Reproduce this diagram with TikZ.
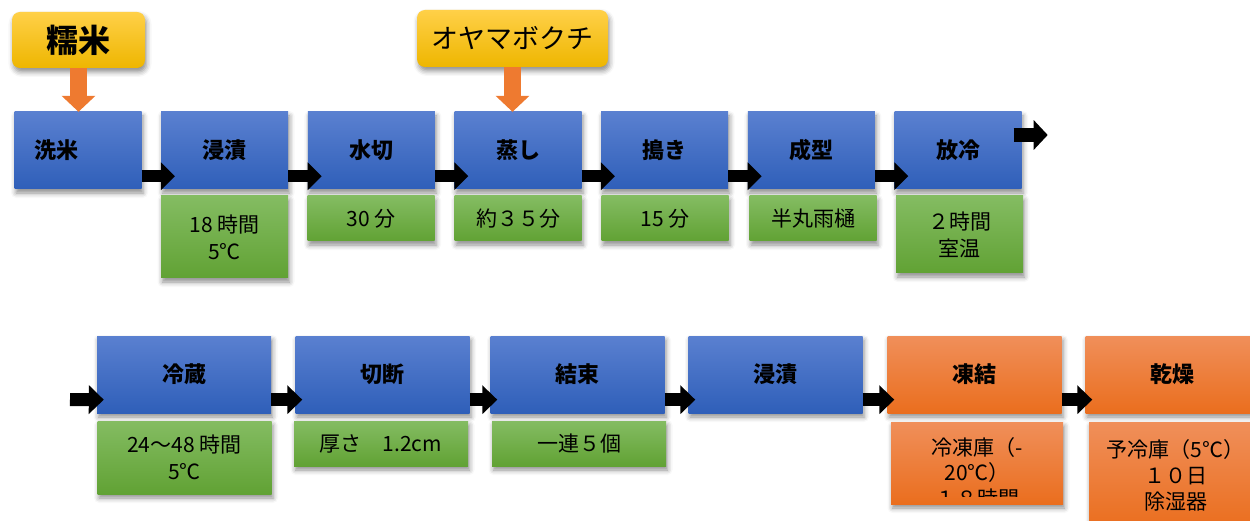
\documentclass[tikz,border=0pt]{standalone}
\usepackage{fontspec}
\setmainfont{Noto Sans CJK JP}
\usetikzlibrary{arrows.meta,shadows.blur,calc}
\definecolor{blueT}{RGB}{90,128,208}
\definecolor{blueB}{RGB}{47,95,185}
\definecolor{greenT}{RGB}{132,188,98}
\definecolor{greenB}{RGB}{97,162,52}
\definecolor{orT}{RGB}{240,143,90}
\definecolor{orB}{RGB}{234,110,30}
\definecolor{yelT}{RGB}{255,208,72}
\definecolor{yelB}{RGB}{238,182,0}
\definecolor{arrOr}{RGB}{238,122,48}
\tikzset{
 shad/.style={blur shadow={shadow xshift=1.5pt,shadow yshift=-4pt,shadow blur radius=5pt,shadow opacity=45}},
 bluebox/.style={rectangle, shad, top color=blueT, bottom color=blueB, minimum width=127pt, minimum height=77pt, inner sep=0pt, font=\bfseries\fontsize{22}{26}\selectfont},
 bluebox2/.style={bluebox, minimum width=174pt},
 orbox/.style={bluebox2, top color=orT, bottom color=orB},
 greenbox/.style={rectangle, shad, top color=greenT, bottom color=greenB, minimum width=127pt, inner sep=0pt, align=center, font=\fontsize{21}{27}\selectfont},
 greenbox2/.style={greenbox, minimum width=174pt},
 orsub/.style={greenbox2, top color=orT, bottom color=orB, font=\fontsize{21}{25}\selectfont},
 yelbox/.style={rectangle, rounded corners=8pt, shad, top color=yelT, bottom color=yelB, inner sep=0pt},
 blk/.style={line width=12pt, black, -{Triangle[length=14pt,width=27pt]}},
 orarr/.style={line width=17pt, arrOr, -{Triangle[length=16pt,width=33pt]}},
}
\begin{document}
\begin{tikzpicture}[x=1pt,y=1pt]
\useasboundingbox (0,0) rectangle (1250,-521);
\clip (0,0) rectangle (1250,-521);
% yellow inputs
\node[yelbox, minimum width=133pt, minimum height=56pt, font=\bfseries\fontsize{32}{36}\selectfont] (y1) at (78.5,-40) {糯米};
\node[yelbox, minimum width=191pt, minimum height=57pt, font=\fontsize{27}{31}\selectfont] (y2) at (512.5,-38.5) {オヤマボクチ};
% top row
\node[bluebox, align=left, text width=87pt, inner xsep=20pt] (b1) at (78,-150.5) {洗米};
\node[bluebox] (b2) at (224.67,-150.5) {浸漬};
\node[bluebox] (b3) at (371.33,-150.5) {水切};
\node[bluebox] (b4) at (518,-150.5) {蒸し};
\node[bluebox] (b5) at (664.67,-150.5) {搗き};
\node[bluebox] (b6) at (811.33,-150.5) {成型};
\node[bluebox] (b7) at (958,-150.5) {放冷};
% top subs
\node[greenbox, minimum height=82pt] (g2) at (224.5,-237) {18 時間\\5℃};
\node[greenbox, minimum height=45pt] (g3) at (371,-218.5) {30 分};
\node[greenbox, minimum height=45pt] (g4) at (518,-218.5) {約３５分};
\node[greenbox, minimum height=45pt] (g5) at (665,-218.5) {15 分};
\node[greenbox, minimum height=45pt] (g6) at (813,-218.5) {半丸雨樋};
\node[greenbox, minimum height=77pt] (g7) at (959.5,-234.5) {２時間\\室温};
% bottom row
\node[bluebox2] (c1) at (184,-374.5) {冷蔵};
\node[bluebox2] (c2) at (382.5,-374.5) {切断};
\node[bluebox2] (c3) at (577.5,-374.5) {結束};
\node[bluebox2] (c4) at (775.5,-374.5) {浸漬};
\node[orbox] (c5) at (974.5,-374.5) {凍結};
\node[orbox] (c6) at (1172.5,-374.5) {乾燥};
% bottom subs
\node[greenbox2, minimum height=73pt] (h1) at (184.5,-457.5) {24～48 時間\\5℃};
\node[greenbox2, minimum height=45pt] (h2) at (381,-443.5) {厚さ　1.2cm};
\node[greenbox2, minimum height=45pt] (h3) at (579,-443.5) {一連５個};
\node[orsub, minimum width=172pt, minimum height=82pt] (h5) at (977,-463) {};
\begin{scope}
\clip (891,-422) rectangle (1063,-496);
\node[font=\fontsize{21}{25.5}\selectfont, align=center, inner sep=0pt] (t5) at (977,-472.5) {冷凍庫（-\\20℃）\\１８時間};
\end{scope}
\node[orsub, minimum width=173pt, minimum height=106pt, font=\fontsize{21}{26}\selectfont] (h6) at (1175.5,-475) {予冷庫（5℃）\\１０日\\除湿器};
% orange input arrows
\draw[orarr] (y1.south) -- (y1.south |- b1.north);
\draw[orarr] (y2.south) -- (y2.south |- b4.north);
% top row arrows
\foreach \a/\b in {b1/b2,b2/b3,b3/b4,b4/b5,b5/b6,b6/b7}
  \draw[blk] ($(\a.south east)+(0,13)$) -- ($(\b.south west)+(14,13)$);
\coordinate (endT) at ($(b7.east)+(26,15.5)$);
\draw[blk, line width=14pt, -{Triangle[length=14pt,width=29pt]}] ($(b7.east)+(-8,15.5)$) -- (endT);
% bottom row arrows
\coordinate (startB) at (70,-399.5);
\draw[blk, line width=13pt, -{Triangle[length=15pt,width=28pt]}] (startB) -- ($(c1.south west)+(7,13.5)$);
\foreach \a/\b in {c1/c2,c2/c3,c3/c4,c4/c5,c5/c6}
  \draw[blk, line width=13pt, -{Triangle[length=15pt,width=28pt]}] ($(\a.south east)+(0,13.5)$) -- ($(\b.south west)+(7,13.5)$);
\end{tikzpicture}
\end{document}
